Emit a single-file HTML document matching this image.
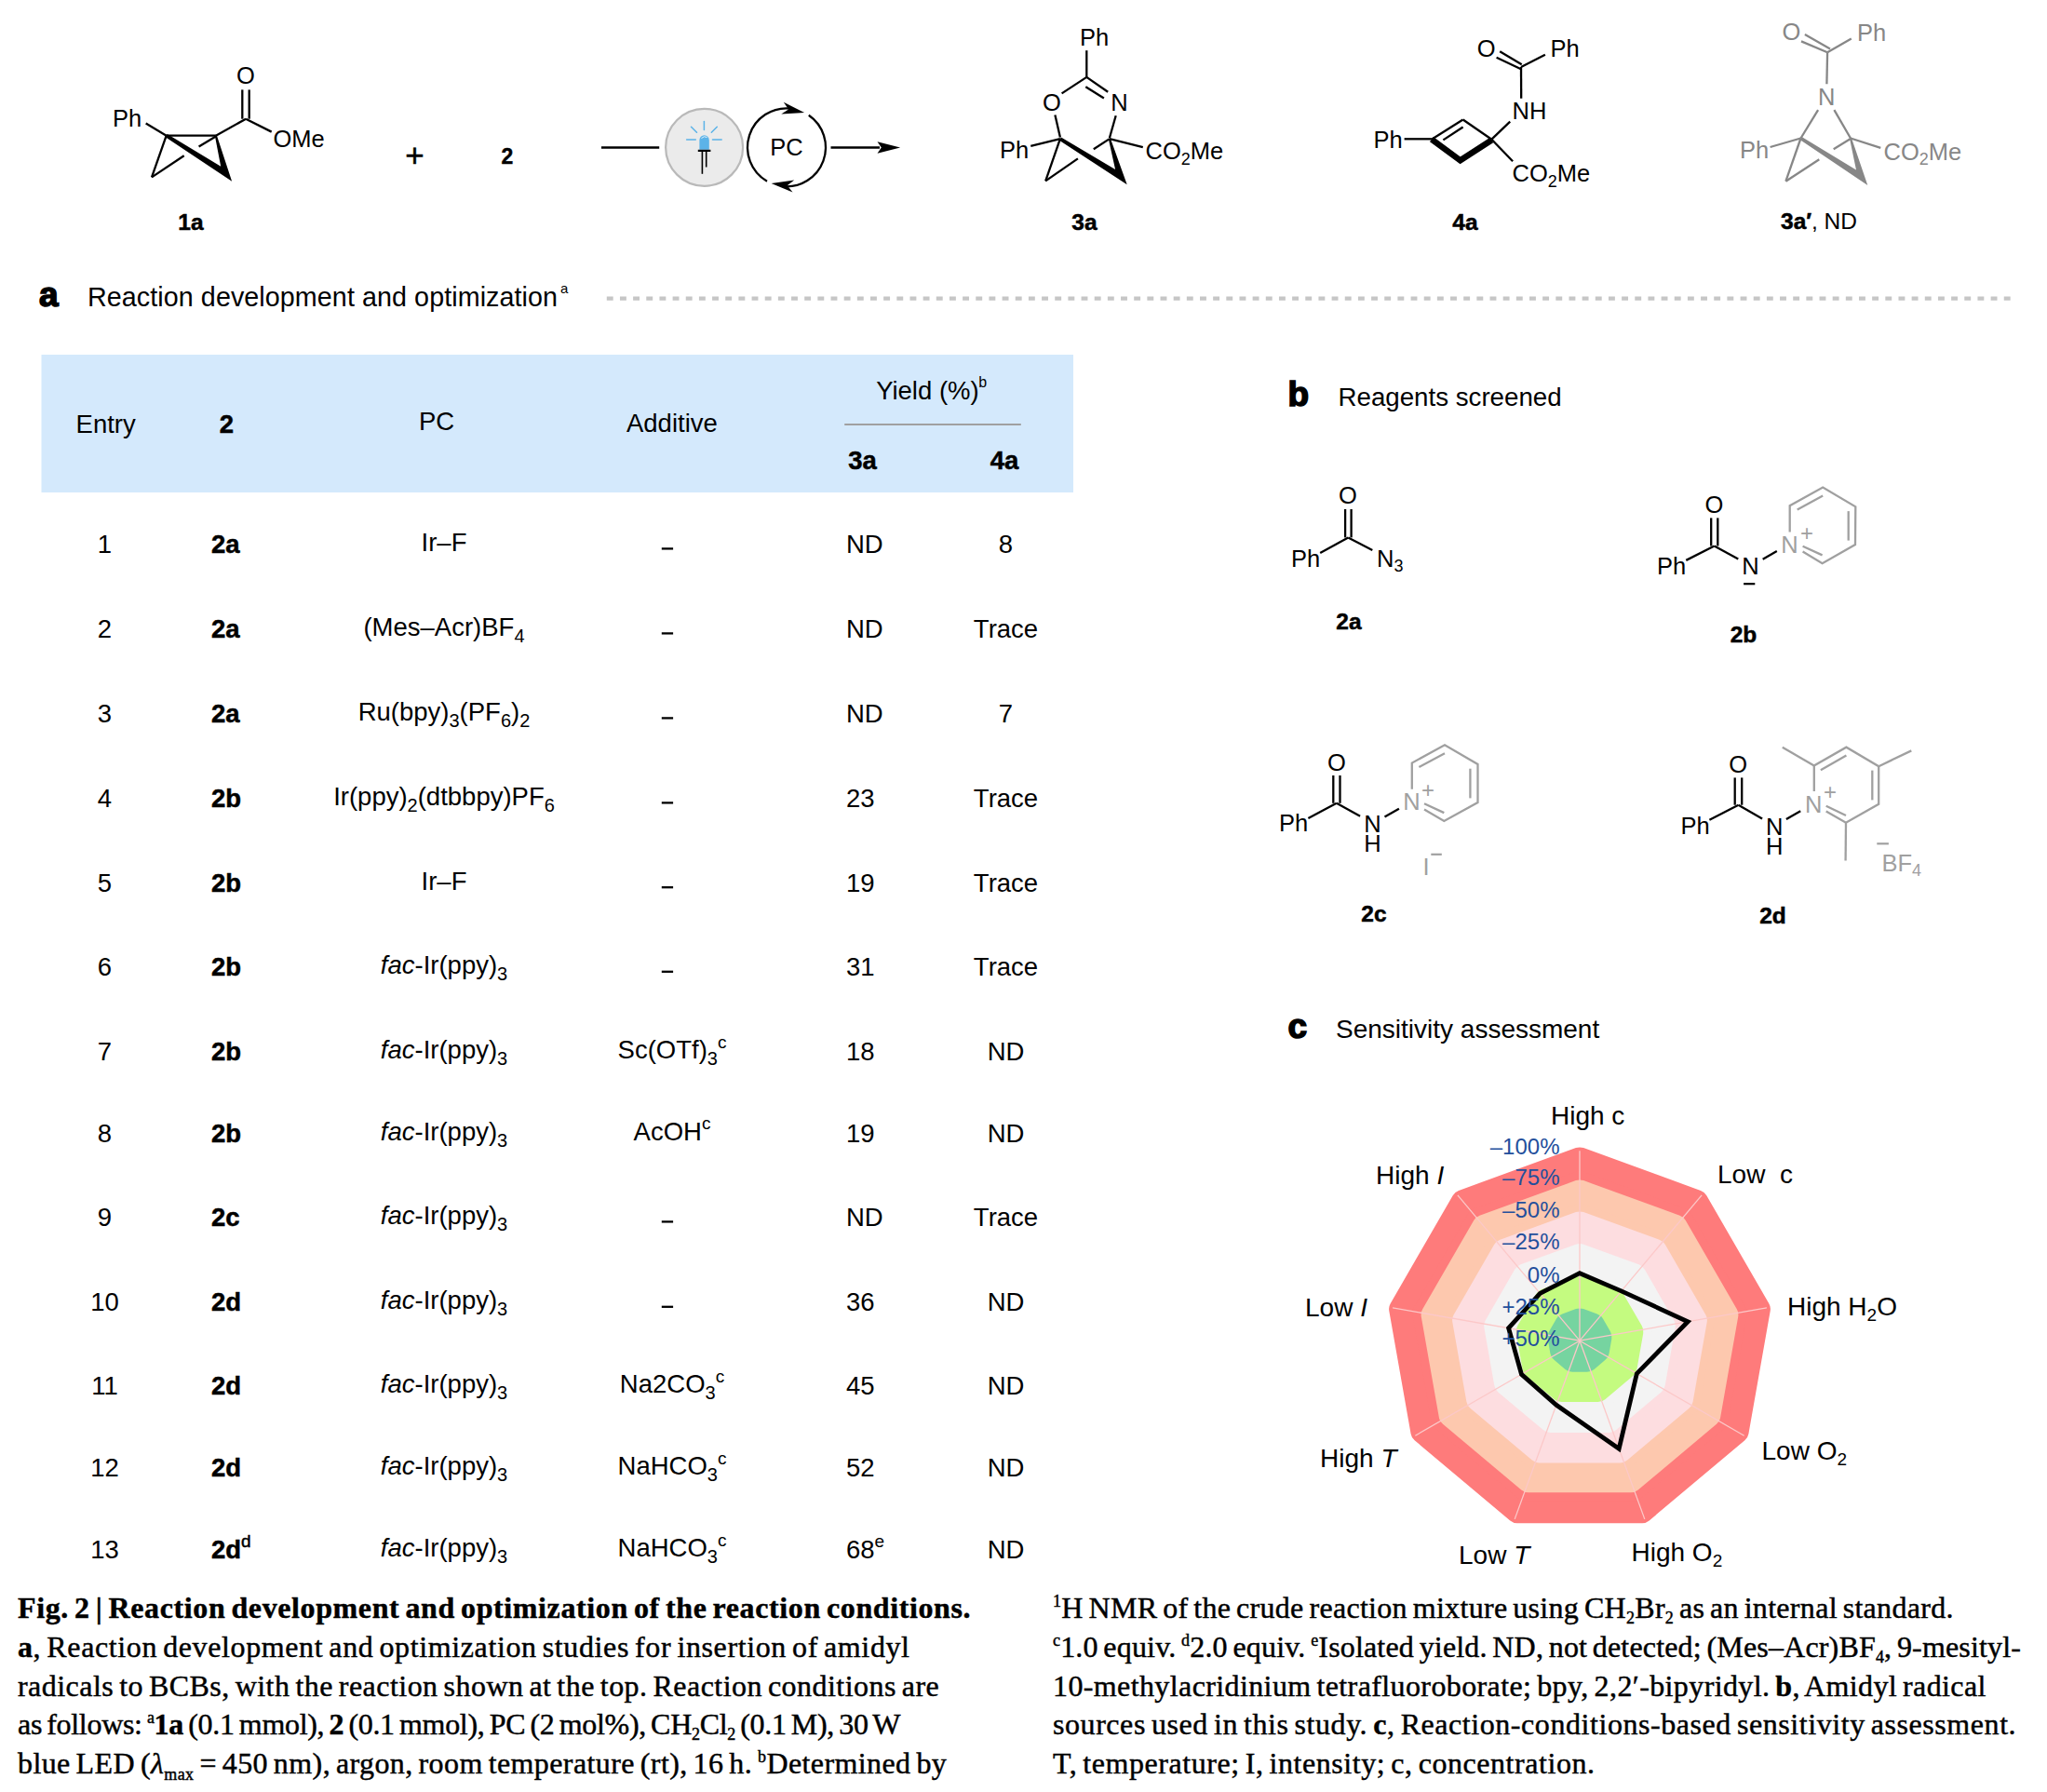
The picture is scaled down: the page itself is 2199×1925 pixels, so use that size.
<!DOCTYPE html>
<html><head><meta charset="utf-8"><style>
html,body{margin:0;padding:0;background:#fff;}
svg{display:block;}
</style></head><body>
<svg width="2199" height="1925" viewBox="0 0 2199 1925">
<rect width="2199" height="1925" fill="#fff"/>
<line x1="178.7" y1="145.7" x2="231.9" y2="145.7" stroke="#000" stroke-width="2.3" stroke-linecap="butt"/>
<line x1="156.7" y1="132.6" x2="178.7" y2="145.7" stroke="#000" stroke-width="2.3" stroke-linecap="butt"/>
<line x1="178.7" y1="145.7" x2="163.0" y2="190.4" stroke="#000" stroke-width="2.3" stroke-linecap="butt"/>
<line x1="163.0" y1="190.4" x2="197.7" y2="167.2" stroke="#000" stroke-width="2.3" stroke-linecap="butt"/>
<line x1="213.6" y1="157.5" x2="231.9" y2="146.5" stroke="#000" stroke-width="2.3" stroke-linecap="butt"/>
<polygon points="179.7,144.1 237.2,178.7 230.9,145.9 232.9,145.5 249.1,194.8 177.7,147.3" fill="#000" stroke="none" stroke-width="0" stroke-linejoin="miter"/>
<line x1="231.9" y1="145.7" x2="264.1" y2="127.7" stroke="#000" stroke-width="2.3" stroke-linecap="butt"/>
<line x1="260.3" y1="96.4" x2="260.3" y2="127.7" stroke="#000" stroke-width="2.3" stroke-linecap="butt"/>
<line x1="267.7" y1="96.4" x2="267.7" y2="127.7" stroke="#000" stroke-width="2.3" stroke-linecap="butt"/>
<line x1="264.1" y1="127.7" x2="291.7" y2="141.6" stroke="#000" stroke-width="2.3" stroke-linecap="butt"/>
<text x="264.0" y="90.3" font-family="Liberation Sans" font-size="25.5" font-weight="normal" font-style="normal" text-anchor="middle" fill="#000" >O</text>
<text x="293.5" y="157.5" font-family="Liberation Sans" font-size="25.5" font-weight="normal" font-style="normal" text-anchor="start" fill="#000" >OMe</text>
<text x="121.0" y="135.5" font-family="Liberation Sans" font-size="25.5" font-weight="normal" font-style="normal" text-anchor="start" fill="#000" >Ph</text>
<text x="205.0" y="246.6" font-family="Liberation Sans" font-size="24.5" font-weight="bold" font-style="normal" text-anchor="middle" fill="#000" stroke="#000" stroke-width="0.5">1a</text>
<text x="445.5" y="178.5" font-family="Liberation Sans" font-size="35" font-weight="normal" font-style="normal" text-anchor="middle" fill="#000" stroke="#000" stroke-width="0.5">+</text>
<text x="545.0" y="175.8" font-family="Liberation Sans" font-size="23" font-weight="bold" font-style="normal" text-anchor="middle" fill="#000" stroke="#000" stroke-width="0.4">2</text>
<line x1="646.0" y1="158.5" x2="708.2" y2="158.5" stroke="#000" stroke-width="2.4" stroke-linecap="butt"/>
<circle cx="756.6" cy="158.3" r="41.5" fill="#ebebeb" stroke="#b9b9b9" stroke-width="2.2"/>
<g stroke="#5cb3e8" stroke-width="1.5" stroke-linecap="round"><line x1="756.4" y1="130.5" x2="756.4" y2="139.5"/><line x1="742.5" y1="136.2" x2="748.5" y2="142.3"/><line x1="770.3" y1="136.2" x2="764.3" y2="142.3"/><line x1="737.6" y1="150" x2="747.3" y2="150"/><line x1="765.5" y1="150" x2="775.2" y2="150"/></g>
<path d="M751.4,160.8 L751.4,150.5 A5.2,5.2 0 0 1 761.8,150.5 L761.8,160.8 Z" fill="#5cb3e8"/>
<path d="M753.5,148.5 q3,-3 6,-1" stroke="#fff" stroke-width="0.8" fill="none"/>
<rect x="749.8" y="160.8" width="13.6" height="2.2" fill="#000"/>
<line x1="754.4" y1="163.0" x2="754.4" y2="186.8" stroke="#000" stroke-width="1.6" stroke-linecap="butt"/>
<line x1="758.7" y1="163.0" x2="758.7" y2="179.5" stroke="#000" stroke-width="1.6" stroke-linecap="butt"/>
<path d="M868.79,123.69 A42,42 0 0 1 840.61,200.07" fill="none" stroke="#000" stroke-width="2.3"/>
<path d="M824.00,194.67 A42,42 0 0 1 849.39,116.53" fill="none" stroke="#000" stroke-width="2.3"/>
<polygon points="828.6,197.0 853.2,193.6 845.7,199.2 851.5,206.5" fill="#000" stroke="none" stroke-width="0" stroke-linejoin="miter"/>
<polygon points="864.1,120.9 839.3,122.5 847.1,117.4 841.8,109.7" fill="#000" stroke="none" stroke-width="0" stroke-linejoin="miter"/>
<text x="845.0" y="167.2" font-family="Liberation Sans" font-size="25.5" font-weight="normal" font-style="normal" text-anchor="middle" fill="#000" >PC</text>
<line x1="892.5" y1="158.5" x2="945.0" y2="158.5" stroke="#000" stroke-width="2.3" stroke-linecap="butt"/>
<polygon points="967.1,158.5 942.5,152.2 946.8,158.5 942.5,164.8" fill="#000" stroke="none" stroke-width="0" stroke-linejoin="miter"/>
<line x1="1167.3" y1="54.2" x2="1167.3" y2="82.9" stroke="#000" stroke-width="2.3" stroke-linecap="butt"/>
<line x1="1167.3" y1="82.9" x2="1140.6" y2="100.4" stroke="#000" stroke-width="2.3" stroke-linecap="butt"/>
<line x1="1167.3" y1="82.9" x2="1190.2" y2="98.8" stroke="#000" stroke-width="2.3" stroke-linecap="butt"/>
<line x1="1166.3" y1="93.2" x2="1185.9" y2="105.5" stroke="#000" stroke-width="2.3" stroke-linecap="butt"/>
<text x="1130.0" y="118.8" font-family="Liberation Sans" font-size="25.5" font-weight="normal" font-style="normal" text-anchor="middle" fill="#000" >O</text>
<text x="1202.5" y="118.8" font-family="Liberation Sans" font-size="25.5" font-weight="normal" font-style="normal" text-anchor="middle" fill="#000" >N</text>
<line x1="1133.4" y1="123.4" x2="1138.9" y2="147.4" stroke="#000" stroke-width="2.3" stroke-linecap="butt"/>
<line x1="1198.7" y1="124.3" x2="1191.9" y2="148.2" stroke="#000" stroke-width="2.3" stroke-linecap="butt"/>
<line x1="1107.3" y1="156.8" x2="1138.9" y2="149.1" stroke="#000" stroke-width="2.3" stroke-linecap="butt"/>
<line x1="1138.9" y1="149.1" x2="1123.2" y2="194.4" stroke="#000" stroke-width="2.3" stroke-linecap="butt"/>
<line x1="1123.2" y1="194.4" x2="1157.9" y2="170.4" stroke="#000" stroke-width="2.3" stroke-linecap="butt"/>
<line x1="1174.8" y1="160.2" x2="1191.9" y2="149.1" stroke="#000" stroke-width="2.3" stroke-linecap="butt"/>
<polygon points="1139.9,147.5 1198.1,181.9 1190.9,149.4 1192.9,148.8 1210.7,198.3 1137.9,150.7" fill="#000" stroke="none" stroke-width="0" stroke-linejoin="miter"/>
<line x1="1191.9" y1="149.1" x2="1227.8" y2="158.1" stroke="#000" stroke-width="2.3" stroke-linecap="butt"/>
<text x="1074.0" y="170.4" font-family="Liberation Sans" font-size="25.5" font-weight="normal" font-style="normal" text-anchor="start" fill="#000" >Ph</text>
<text x="1160.0" y="49.1" font-family="Liberation Sans" font-size="25.5" font-weight="normal" font-style="normal" text-anchor="start" fill="#000" >Ph</text>
<text x="1230.5" y="171.3" font-family="Liberation Sans" font-size="25.5" font-weight="normal" font-style="normal" text-anchor="start" fill="#000" >CO<tspan font-size="18" dy="5.5">2</tspan><tspan dy="-5.5">Me</tspan></text>
<text x="1165.0" y="246.5" font-family="Liberation Sans" font-size="24.5" font-weight="bold" font-style="normal" text-anchor="middle" fill="#000" stroke="#000" stroke-width="0.5">3a</text>
<text x="1596.7" y="60.7" font-family="Liberation Sans" font-size="25.5" font-weight="normal" font-style="normal" text-anchor="middle" fill="#000" >O</text>
<text x="1665.5" y="61.0" font-family="Liberation Sans" font-size="25.5" font-weight="normal" font-style="normal" text-anchor="start" fill="#000" >Ph</text>
<line x1="1634.0" y1="74.2" x2="1607.6" y2="61.8" stroke="#000" stroke-width="2.3" stroke-linecap="butt"/>
<line x1="1634.7" y1="69.3" x2="1611.2" y2="55.2" stroke="#000" stroke-width="2.3" stroke-linecap="butt"/>
<line x1="1634.0" y1="72.0" x2="1659.9" y2="58.8" stroke="#000" stroke-width="2.3" stroke-linecap="butt"/>
<line x1="1634.0" y1="72.0" x2="1634.2" y2="105.7" stroke="#000" stroke-width="2.3" stroke-linecap="butt"/>
<text x="1643.0" y="127.7" font-family="Liberation Sans" font-size="25.5" font-weight="normal" font-style="normal" text-anchor="middle" fill="#000" >NH</text>
<line x1="1622.2" y1="130.7" x2="1602.4" y2="149.7" stroke="#000" stroke-width="2.3" stroke-linecap="butt"/>
<line x1="1602.4" y1="149.7" x2="1571.6" y2="128.5" stroke="#000" stroke-width="2.3" stroke-linecap="butt"/>
<line x1="1571.6" y1="128.5" x2="1537.9" y2="149.7" stroke="#000" stroke-width="2.3" stroke-linecap="butt"/>
<line x1="1550.4" y1="150.4" x2="1571.6" y2="136.5" stroke="#000" stroke-width="2.3" stroke-linecap="butt"/>
<line x1="1508.6" y1="149.3" x2="1537.9" y2="149.3" stroke="#000" stroke-width="2.3" stroke-linecap="butt"/>
<text x="1475.5" y="158.5" font-family="Liberation Sans" font-size="25.5" font-weight="normal" font-style="normal" text-anchor="start" fill="#000" >Ph</text>
<polyline points="1537.9,149.7 1568.7,172.3 1602.4,150.5" fill="none" stroke="#000" stroke-width="6.5" stroke-linejoin="miter"/>
<line x1="1602.4" y1="149.7" x2="1625.1" y2="173.2" stroke="#000" stroke-width="2.3" stroke-linecap="butt"/>
<text x="1624.5" y="195.0" font-family="Liberation Sans" font-size="25.5" font-weight="normal" font-style="normal" text-anchor="start" fill="#000" >CO<tspan font-size="18" dy="5.5">2</tspan><tspan dy="-5.5">Me</tspan></text>
<text x="1574.0" y="247.2" font-family="Liberation Sans" font-size="24.5" font-weight="bold" font-style="normal" text-anchor="middle" fill="#000" stroke="#000" stroke-width="0.5">4a</text>
<text x="1924.3" y="42.5" font-family="Liberation Sans" font-size="25.5" font-weight="normal" font-style="normal" text-anchor="middle" fill="#878787" >O</text>
<text x="1995.0" y="44.0" font-family="Liberation Sans" font-size="25.5" font-weight="normal" font-style="normal" text-anchor="start" fill="#878787" >Ph</text>
<line x1="1963.1" y1="56.2" x2="1935.0" y2="44.4" stroke="#878787" stroke-width="2.3" stroke-linecap="butt"/>
<line x1="1966.0" y1="52.5" x2="1938.9" y2="37.1" stroke="#878787" stroke-width="2.3" stroke-linecap="butt"/>
<line x1="1963.1" y1="56.2" x2="1988.8" y2="41.5" stroke="#878787" stroke-width="2.3" stroke-linecap="butt"/>
<line x1="1963.1" y1="56.2" x2="1962.4" y2="90.3" stroke="#878787" stroke-width="2.3" stroke-linecap="butt"/>
<text x="1962.3" y="112.6" font-family="Liberation Sans" font-size="25.5" font-weight="normal" font-style="normal" text-anchor="middle" fill="#878787" >N</text>
<line x1="1953.1" y1="118.2" x2="1934.5" y2="148.5" stroke="#878787" stroke-width="2.3" stroke-linecap="butt"/>
<line x1="1970.4" y1="118.2" x2="1988.0" y2="148.5" stroke="#878787" stroke-width="2.3" stroke-linecap="butt"/>
<line x1="1901.6" y1="158.0" x2="1934.5" y2="148.5" stroke="#878787" stroke-width="2.3" stroke-linecap="butt"/>
<text x="1869.0" y="169.8" font-family="Liberation Sans" font-size="25.5" font-weight="normal" font-style="normal" text-anchor="start" fill="#878787" >Ph</text>
<line x1="1988.0" y1="148.5" x2="2020.3" y2="158.8" stroke="#878787" stroke-width="2.3" stroke-linecap="butt"/>
<text x="2023.5" y="171.8" font-family="Liberation Sans" font-size="25.5" font-weight="normal" font-style="normal" text-anchor="start" fill="#878787" >CO<tspan font-size="18" dy="5.5">2</tspan><tspan dy="-5.5">Me</tspan></text>
<line x1="1934.5" y1="148.5" x2="1918.4" y2="194.7" stroke="#878787" stroke-width="2.3" stroke-linecap="butt"/>
<line x1="1918.4" y1="194.7" x2="1954.3" y2="171.2" stroke="#878787" stroke-width="2.3" stroke-linecap="butt"/>
<line x1="1969.7" y1="160.2" x2="1988.0" y2="149.0" stroke="#878787" stroke-width="2.3" stroke-linecap="butt"/>
<polygon points="1935.5,146.9 1994.0,182.6 1987.0,148.8 1989.0,148.2 2006.3,199.0 1933.5,150.1" fill="#878787" stroke="none" stroke-width="0" stroke-linejoin="miter"/>
<text x="1913.0" y="246.0" font-family="Liberation Sans" font-size="24.5" font-weight="bold" font-style="normal" text-anchor="start" fill="#000" stroke="#000" stroke-width="0.5">3a′</text>
<text x="1946.0" y="246.0" font-family="Liberation Sans" font-size="24.5" font-weight="normal" font-style="normal" text-anchor="start" fill="#000" >, ND</text>
<text x="42.0" y="329.4" font-family="Liberation Sans" font-size="37" font-weight="bold" font-style="normal" text-anchor="start" fill="#000" stroke="#000" stroke-width="1.6">a</text>
<text x="94.0" y="329.3" font-family="Liberation Sans" font-size="28.7" font-weight="normal" font-style="normal" text-anchor="start" fill="#000" textLength="505" lengthAdjust="spacing">Reaction development and optimization</text>
<text x="602.0" y="314.5" font-family="Liberation Sans" font-size="15" font-weight="normal" font-style="normal" text-anchor="start" fill="#000" >a</text>
<line x1="651.8" y1="320.7" x2="2162" y2="320.7" stroke="#c6c6c6" stroke-width="4.3" stroke-dasharray="6.9,7.26"/>
<rect x="44.5" y="381" width="1108.5" height="148" fill="#d4e9fc"/>
<text x="113.7" y="464.7" font-family="Liberation Sans" font-size="27.5" font-weight="normal" font-style="normal" text-anchor="middle" fill="#000" >Entry</text>
<text x="243.3" y="464.7" font-family="Liberation Sans" font-size="27.5" font-weight="bold" font-style="normal" text-anchor="middle" fill="#000" stroke="#000" stroke-width="0.5">2</text>
<text x="469.0" y="462.0" font-family="Liberation Sans" font-size="27.5" font-weight="normal" font-style="normal" text-anchor="middle" fill="#000" >PC</text>
<text x="721.9" y="463.8" font-family="Liberation Sans" font-size="27.5" font-weight="normal" font-style="normal" text-anchor="middle" fill="#000" >Additive</text>
<text x="996.4" y="428.6" font-family="Liberation Sans" font-size="27.5" font-weight="normal" font-style="normal" text-anchor="middle" fill="#000" >Yield (%)</text>
<text x="1051.3" y="416.0" font-family="Liberation Sans" font-size="16" font-weight="normal" font-style="normal" text-anchor="start" fill="#000" >b</text>
<line x1="907.2" y1="455.9" x2="1096.8" y2="455.9" stroke="#a0a0a0" stroke-width="2"/>
<text x="926.5" y="504.2" font-family="Liberation Sans" font-size="27.5" font-weight="bold" font-style="normal" text-anchor="middle" fill="#000" stroke="#000" stroke-width="0.5">3a</text>
<text x="1079.0" y="504.2" font-family="Liberation Sans" font-size="27.5" font-weight="bold" font-style="normal" text-anchor="middle" fill="#000" stroke="#000" stroke-width="0.5">4a</text>
<text x="112.5" y="594.0" font-family="Liberation Sans" font-size="27.5" font-weight="normal" font-style="normal" text-anchor="middle" fill="#000" >1</text>
<text x="227.0" y="594.0" font-family="Liberation Sans" font-size="27.5" font-weight="bold" font-style="normal" text-anchor="start" fill="#000" stroke="#000" stroke-width="0.5">2a</text>
<text x="477.0" y="592.0" font-family="Liberation Sans" font-size="27.5" font-weight="normal" font-style="normal" text-anchor="middle" fill="#000" >Ir–F</text>
<line x1="710.8" y1="589.4" x2="723.1" y2="589.4" stroke="#000" stroke-width="2.3" stroke-linecap="butt"/>
<text x="909.0" y="594.0" font-family="Liberation Sans" font-size="27.5" font-weight="normal" font-style="normal" text-anchor="start" fill="#000" >ND</text>
<text x="1080.5" y="594.0" font-family="Liberation Sans" font-size="27.5" font-weight="normal" font-style="normal" text-anchor="middle" fill="#000" >8</text>
<text x="112.5" y="685.0" font-family="Liberation Sans" font-size="27.5" font-weight="normal" font-style="normal" text-anchor="middle" fill="#000" >2</text>
<text x="227.0" y="685.0" font-family="Liberation Sans" font-size="27.5" font-weight="bold" font-style="normal" text-anchor="start" fill="#000" stroke="#000" stroke-width="0.5">2a</text>
<text x="477.0" y="683.0" font-family="Liberation Sans" font-size="27.5" font-weight="normal" font-style="normal" text-anchor="middle" fill="#000" >(Mes–Acr)BF<tspan font-size="20" dy="7">4</tspan></text>
<line x1="710.8" y1="680.4" x2="723.1" y2="680.4" stroke="#000" stroke-width="2.3" stroke-linecap="butt"/>
<text x="909.0" y="685.0" font-family="Liberation Sans" font-size="27.5" font-weight="normal" font-style="normal" text-anchor="start" fill="#000" >ND</text>
<text x="1080.5" y="685.0" font-family="Liberation Sans" font-size="27.5" font-weight="normal" font-style="normal" text-anchor="middle" fill="#000" >Trace</text>
<text x="112.5" y="776.0" font-family="Liberation Sans" font-size="27.5" font-weight="normal" font-style="normal" text-anchor="middle" fill="#000" >3</text>
<text x="227.0" y="776.0" font-family="Liberation Sans" font-size="27.5" font-weight="bold" font-style="normal" text-anchor="start" fill="#000" stroke="#000" stroke-width="0.5">2a</text>
<text x="477.0" y="774.0" font-family="Liberation Sans" font-size="27.5" font-weight="normal" font-style="normal" text-anchor="middle" fill="#000" >Ru(bpy)<tspan font-size="20" dy="7">3</tspan><tspan dy="-7">(PF</tspan><tspan font-size="20" dy="7">6</tspan><tspan dy="-7">)</tspan><tspan font-size="20" dy="7">2</tspan></text>
<line x1="710.8" y1="771.4" x2="723.1" y2="771.4" stroke="#000" stroke-width="2.3" stroke-linecap="butt"/>
<text x="909.0" y="776.0" font-family="Liberation Sans" font-size="27.5" font-weight="normal" font-style="normal" text-anchor="start" fill="#000" >ND</text>
<text x="1080.5" y="776.0" font-family="Liberation Sans" font-size="27.5" font-weight="normal" font-style="normal" text-anchor="middle" fill="#000" >7</text>
<text x="112.5" y="867.0" font-family="Liberation Sans" font-size="27.5" font-weight="normal" font-style="normal" text-anchor="middle" fill="#000" >4</text>
<text x="227.0" y="867.0" font-family="Liberation Sans" font-size="27.5" font-weight="bold" font-style="normal" text-anchor="start" fill="#000" stroke="#000" stroke-width="0.5">2b</text>
<text x="477.0" y="865.0" font-family="Liberation Sans" font-size="27.5" font-weight="normal" font-style="normal" text-anchor="middle" fill="#000" >Ir(ppy)<tspan font-size="20" dy="7">2</tspan><tspan dy="-7">(dtbbpy)PF</tspan><tspan font-size="20" dy="7">6</tspan></text>
<line x1="710.8" y1="862.4" x2="723.1" y2="862.4" stroke="#000" stroke-width="2.3" stroke-linecap="butt"/>
<text x="909.0" y="867.0" font-family="Liberation Sans" font-size="27.5" font-weight="normal" font-style="normal" text-anchor="start" fill="#000" >23</text>
<text x="1080.5" y="867.0" font-family="Liberation Sans" font-size="27.5" font-weight="normal" font-style="normal" text-anchor="middle" fill="#000" >Trace</text>
<text x="112.5" y="957.8" font-family="Liberation Sans" font-size="27.5" font-weight="normal" font-style="normal" text-anchor="middle" fill="#000" >5</text>
<text x="227.0" y="957.8" font-family="Liberation Sans" font-size="27.5" font-weight="bold" font-style="normal" text-anchor="start" fill="#000" stroke="#000" stroke-width="0.5">2b</text>
<text x="477.0" y="955.8" font-family="Liberation Sans" font-size="27.5" font-weight="normal" font-style="normal" text-anchor="middle" fill="#000" >Ir–F</text>
<line x1="710.8" y1="953.2" x2="723.1" y2="953.2" stroke="#000" stroke-width="2.3" stroke-linecap="butt"/>
<text x="909.0" y="957.8" font-family="Liberation Sans" font-size="27.5" font-weight="normal" font-style="normal" text-anchor="start" fill="#000" >19</text>
<text x="1080.5" y="957.8" font-family="Liberation Sans" font-size="27.5" font-weight="normal" font-style="normal" text-anchor="middle" fill="#000" >Trace</text>
<text x="112.5" y="1048.4" font-family="Liberation Sans" font-size="27.5" font-weight="normal" font-style="normal" text-anchor="middle" fill="#000" >6</text>
<text x="227.0" y="1048.4" font-family="Liberation Sans" font-size="27.5" font-weight="bold" font-style="normal" text-anchor="start" fill="#000" stroke="#000" stroke-width="0.5">2b</text>
<text x="477.0" y="1046.4" font-family="Liberation Sans" font-size="27.5" font-weight="normal" font-style="normal" text-anchor="middle" fill="#000" ><tspan font-style="italic">fac</tspan>-Ir(ppy)<tspan font-size="20" dy="7">3</tspan></text>
<line x1="710.8" y1="1043.8" x2="723.1" y2="1043.8" stroke="#000" stroke-width="2.3" stroke-linecap="butt"/>
<text x="909.0" y="1048.4" font-family="Liberation Sans" font-size="27.5" font-weight="normal" font-style="normal" text-anchor="start" fill="#000" >31</text>
<text x="1080.5" y="1048.4" font-family="Liberation Sans" font-size="27.5" font-weight="normal" font-style="normal" text-anchor="middle" fill="#000" >Trace</text>
<text x="112.5" y="1139.2" font-family="Liberation Sans" font-size="27.5" font-weight="normal" font-style="normal" text-anchor="middle" fill="#000" >7</text>
<text x="227.0" y="1139.2" font-family="Liberation Sans" font-size="27.5" font-weight="bold" font-style="normal" text-anchor="start" fill="#000" stroke="#000" stroke-width="0.5">2b</text>
<text x="477.0" y="1137.2" font-family="Liberation Sans" font-size="27.5" font-weight="normal" font-style="normal" text-anchor="middle" fill="#000" ><tspan font-style="italic">fac</tspan>-Ir(ppy)<tspan font-size="20" dy="7">3</tspan></text>
<text x="722.0" y="1137.0" font-family="Liberation Sans" font-size="27.5" font-weight="normal" font-style="normal" text-anchor="middle" fill="#000" >Sc(OTf)<tspan font-size="20" dy="7">3</tspan><tspan font-size="19" dy="-18">c</tspan></text>
<text x="909.0" y="1139.2" font-family="Liberation Sans" font-size="27.5" font-weight="normal" font-style="normal" text-anchor="start" fill="#000" >18</text>
<text x="1080.5" y="1139.2" font-family="Liberation Sans" font-size="27.5" font-weight="normal" font-style="normal" text-anchor="middle" fill="#000" >ND</text>
<text x="112.5" y="1227.1" font-family="Liberation Sans" font-size="27.5" font-weight="normal" font-style="normal" text-anchor="middle" fill="#000" >8</text>
<text x="227.0" y="1227.1" font-family="Liberation Sans" font-size="27.5" font-weight="bold" font-style="normal" text-anchor="start" fill="#000" stroke="#000" stroke-width="0.5">2b</text>
<text x="477.0" y="1225.1" font-family="Liberation Sans" font-size="27.5" font-weight="normal" font-style="normal" text-anchor="middle" fill="#000" ><tspan font-style="italic">fac</tspan>-Ir(ppy)<tspan font-size="20" dy="7">3</tspan></text>
<text x="722.0" y="1224.9" font-family="Liberation Sans" font-size="27.5" font-weight="normal" font-style="normal" text-anchor="middle" fill="#000" >AcOH<tspan font-size="19" dy="-12">c</tspan></text>
<text x="909.0" y="1227.1" font-family="Liberation Sans" font-size="27.5" font-weight="normal" font-style="normal" text-anchor="start" fill="#000" >19</text>
<text x="1080.5" y="1227.1" font-family="Liberation Sans" font-size="27.5" font-weight="normal" font-style="normal" text-anchor="middle" fill="#000" >ND</text>
<text x="112.5" y="1317.0" font-family="Liberation Sans" font-size="27.5" font-weight="normal" font-style="normal" text-anchor="middle" fill="#000" >9</text>
<text x="227.0" y="1317.0" font-family="Liberation Sans" font-size="27.5" font-weight="bold" font-style="normal" text-anchor="start" fill="#000" stroke="#000" stroke-width="0.5">2c</text>
<text x="477.0" y="1315.0" font-family="Liberation Sans" font-size="27.5" font-weight="normal" font-style="normal" text-anchor="middle" fill="#000" ><tspan font-style="italic">fac</tspan>-Ir(ppy)<tspan font-size="20" dy="7">3</tspan></text>
<line x1="710.8" y1="1312.4" x2="723.1" y2="1312.4" stroke="#000" stroke-width="2.3" stroke-linecap="butt"/>
<text x="909.0" y="1317.0" font-family="Liberation Sans" font-size="27.5" font-weight="normal" font-style="normal" text-anchor="start" fill="#000" >ND</text>
<text x="1080.5" y="1317.0" font-family="Liberation Sans" font-size="27.5" font-weight="normal" font-style="normal" text-anchor="middle" fill="#000" >Trace</text>
<text x="112.5" y="1408.4" font-family="Liberation Sans" font-size="27.5" font-weight="normal" font-style="normal" text-anchor="middle" fill="#000" >10</text>
<text x="227.0" y="1408.4" font-family="Liberation Sans" font-size="27.5" font-weight="bold" font-style="normal" text-anchor="start" fill="#000" stroke="#000" stroke-width="0.5">2d</text>
<text x="477.0" y="1406.4" font-family="Liberation Sans" font-size="27.5" font-weight="normal" font-style="normal" text-anchor="middle" fill="#000" ><tspan font-style="italic">fac</tspan>-Ir(ppy)<tspan font-size="20" dy="7">3</tspan></text>
<line x1="710.8" y1="1403.8" x2="723.1" y2="1403.8" stroke="#000" stroke-width="2.3" stroke-linecap="butt"/>
<text x="909.0" y="1408.4" font-family="Liberation Sans" font-size="27.5" font-weight="normal" font-style="normal" text-anchor="start" fill="#000" >36</text>
<text x="1080.5" y="1408.4" font-family="Liberation Sans" font-size="27.5" font-weight="normal" font-style="normal" text-anchor="middle" fill="#000" >ND</text>
<text x="112.5" y="1497.7" font-family="Liberation Sans" font-size="27.5" font-weight="normal" font-style="normal" text-anchor="middle" fill="#000" >11</text>
<text x="227.0" y="1497.7" font-family="Liberation Sans" font-size="27.5" font-weight="bold" font-style="normal" text-anchor="start" fill="#000" stroke="#000" stroke-width="0.5">2d</text>
<text x="477.0" y="1495.7" font-family="Liberation Sans" font-size="27.5" font-weight="normal" font-style="normal" text-anchor="middle" fill="#000" ><tspan font-style="italic">fac</tspan>-Ir(ppy)<tspan font-size="20" dy="7">3</tspan></text>
<text x="722.0" y="1495.5" font-family="Liberation Sans" font-size="27.5" font-weight="normal" font-style="normal" text-anchor="middle" fill="#000" >Na2CO<tspan font-size="20" dy="7">3</tspan><tspan font-size="19" dy="-18">c</tspan></text>
<text x="909.0" y="1497.7" font-family="Liberation Sans" font-size="27.5" font-weight="normal" font-style="normal" text-anchor="start" fill="#000" >45</text>
<text x="1080.5" y="1497.7" font-family="Liberation Sans" font-size="27.5" font-weight="normal" font-style="normal" text-anchor="middle" fill="#000" >ND</text>
<text x="112.5" y="1586.3" font-family="Liberation Sans" font-size="27.5" font-weight="normal" font-style="normal" text-anchor="middle" fill="#000" >12</text>
<text x="227.0" y="1586.3" font-family="Liberation Sans" font-size="27.5" font-weight="bold" font-style="normal" text-anchor="start" fill="#000" stroke="#000" stroke-width="0.5">2d</text>
<text x="477.0" y="1584.3" font-family="Liberation Sans" font-size="27.5" font-weight="normal" font-style="normal" text-anchor="middle" fill="#000" ><tspan font-style="italic">fac</tspan>-Ir(ppy)<tspan font-size="20" dy="7">3</tspan></text>
<text x="722.0" y="1584.1" font-family="Liberation Sans" font-size="27.5" font-weight="normal" font-style="normal" text-anchor="middle" fill="#000" >NaHCO<tspan font-size="20" dy="7">3</tspan><tspan font-size="19" dy="-18">c</tspan></text>
<text x="909.0" y="1586.3" font-family="Liberation Sans" font-size="27.5" font-weight="normal" font-style="normal" text-anchor="start" fill="#000" >52</text>
<text x="1080.5" y="1586.3" font-family="Liberation Sans" font-size="27.5" font-weight="normal" font-style="normal" text-anchor="middle" fill="#000" >ND</text>
<text x="112.5" y="1674.2" font-family="Liberation Sans" font-size="27.5" font-weight="normal" font-style="normal" text-anchor="middle" fill="#000" >13</text>
<text x="227.0" y="1674.2" font-family="Liberation Sans" font-size="27.5" font-weight="bold" font-style="normal" text-anchor="start" fill="#000" stroke="#000" stroke-width="0.5">2d<tspan font-size="19" font-weight="normal" dy="-12">d</tspan></text>
<text x="477.0" y="1672.2" font-family="Liberation Sans" font-size="27.5" font-weight="normal" font-style="normal" text-anchor="middle" fill="#000" ><tspan font-style="italic">fac</tspan>-Ir(ppy)<tspan font-size="20" dy="7">3</tspan></text>
<text x="722.0" y="1672.0" font-family="Liberation Sans" font-size="27.5" font-weight="normal" font-style="normal" text-anchor="middle" fill="#000" >NaHCO<tspan font-size="20" dy="7">3</tspan><tspan font-size="19" dy="-18">c</tspan></text>
<text x="909.0" y="1674.2" font-family="Liberation Sans" font-size="27.5" font-weight="normal" font-style="normal" text-anchor="start" fill="#000" >68<tspan font-size="19" dy="-12">e</tspan></text>
<text x="1080.5" y="1674.2" font-family="Liberation Sans" font-size="27.5" font-weight="normal" font-style="normal" text-anchor="middle" fill="#000" >ND</text>
<text x="1383.5" y="435.6" font-family="Liberation Sans" font-size="37" font-weight="bold" font-style="normal" text-anchor="start" fill="#000" stroke="#000" stroke-width="1.6">b</text>
<text x="1437.5" y="435.5" font-family="Liberation Sans" font-size="27.7" font-weight="normal" font-style="normal" text-anchor="start" fill="#000" >Reagents screened</text>
<text x="1448.0" y="541.2" font-family="Liberation Sans" font-size="25.5" font-weight="normal" font-style="normal" text-anchor="middle" fill="#000" >O</text>
<line x1="1445.1" y1="547.0" x2="1445.1" y2="577.4" stroke="#000" stroke-width="2.3" stroke-linecap="butt"/>
<line x1="1451.6" y1="547.0" x2="1451.6" y2="577.4" stroke="#000" stroke-width="2.3" stroke-linecap="butt"/>
<line x1="1448.3" y1="577.4" x2="1418.2" y2="594.0" stroke="#000" stroke-width="2.3" stroke-linecap="butt"/>
<line x1="1448.3" y1="577.4" x2="1474.3" y2="591.0" stroke="#000" stroke-width="2.3" stroke-linecap="butt"/>
<text x="1387.0" y="609.0" font-family="Liberation Sans" font-size="25.5" font-weight="normal" font-style="normal" text-anchor="start" fill="#000" >Ph</text>
<text x="1479.0" y="609.0" font-family="Liberation Sans" font-size="25.5" font-weight="normal" font-style="normal" text-anchor="start" fill="#000" >N<tspan font-size="18" dy="5">3</tspan></text>
<text x="1449.0" y="676.0" font-family="Liberation Sans" font-size="24.5" font-weight="bold" font-style="normal" text-anchor="middle" fill="#000" stroke="#000" stroke-width="0.5">2a</text>
<text x="1841.5" y="551.0" font-family="Liberation Sans" font-size="25.5" font-weight="normal" font-style="normal" text-anchor="middle" fill="#000" >O</text>
<line x1="1838.2" y1="556.4" x2="1838.2" y2="586.5" stroke="#000" stroke-width="2.3" stroke-linecap="butt"/>
<line x1="1845.3" y1="556.4" x2="1845.3" y2="586.5" stroke="#000" stroke-width="2.3" stroke-linecap="butt"/>
<line x1="1841.6" y1="586.5" x2="1811.3" y2="601.9" stroke="#000" stroke-width="2.3" stroke-linecap="butt"/>
<line x1="1841.6" y1="586.5" x2="1867.3" y2="600.4" stroke="#000" stroke-width="2.3" stroke-linecap="butt"/>
<text x="1780.0" y="617.0" font-family="Liberation Sans" font-size="25.5" font-weight="normal" font-style="normal" text-anchor="start" fill="#000" >Ph</text>
<text x="1880.5" y="617.3" font-family="Liberation Sans" font-size="25.5" font-weight="normal" font-style="normal" text-anchor="middle" fill="#000" >N</text>
<line x1="1873.1" y1="627.2" x2="1885.3" y2="627.2" stroke="#000" stroke-width="2.2" stroke-linecap="butt"/>
<line x1="1893.7" y1="600.8" x2="1908.8" y2="592.0" stroke="#000" stroke-width="2.3" stroke-linecap="butt"/>
<text x="1922.5" y="593.5" font-family="Liberation Sans" font-size="25.5" font-weight="normal" font-style="normal" text-anchor="middle" fill="#a0a0a0" >N</text>
<text x="1941.0" y="580.5" font-family="Liberation Sans" font-size="24" font-weight="normal" font-style="normal" text-anchor="middle" fill="#a0a0a0" >+</text>
<polyline points="1922.7,571.5 1922.7,543.2 1958.2,523.5 1993.3,544.3 1993,585 1957.6,605.2 1936.6,592.6" fill="none" stroke="#a0a0a0" stroke-width="2.3"/>
<line x1="1930.7" y1="547.6" x2="1958.2" y2="532.5" stroke="#a0a0a0" stroke-width="2.3" stroke-linecap="butt"/>
<line x1="1985.7" y1="549.1" x2="1985.7" y2="580.6" stroke="#a0a0a0" stroke-width="2.3" stroke-linecap="butt"/>
<line x1="1936.6" y1="586.8" x2="1957.6" y2="596.4" stroke="#a0a0a0" stroke-width="2.3" stroke-linecap="butt"/>
<text x="1873.0" y="689.8" font-family="Liberation Sans" font-size="24.5" font-weight="bold" font-style="normal" text-anchor="middle" fill="#000" stroke="#000" stroke-width="0.5">2b</text>
<text x="1436.0" y="827.6" font-family="Liberation Sans" font-size="25.5" font-weight="normal" font-style="normal" text-anchor="middle" fill="#000" >O</text>
<line x1="1432.3" y1="833.0" x2="1432.3" y2="862.8" stroke="#000" stroke-width="2.3" stroke-linecap="butt"/>
<line x1="1439.5" y1="833.0" x2="1439.5" y2="862.8" stroke="#000" stroke-width="2.3" stroke-linecap="butt"/>
<line x1="1435.8" y1="862.8" x2="1405.4" y2="878.9" stroke="#000" stroke-width="2.3" stroke-linecap="butt"/>
<line x1="1435.8" y1="862.8" x2="1461.1" y2="876.7" stroke="#000" stroke-width="2.3" stroke-linecap="butt"/>
<text x="1374.0" y="892.9" font-family="Liberation Sans" font-size="25.5" font-weight="normal" font-style="normal" text-anchor="start" fill="#000" >Ph</text>
<text x="1474.5" y="893.6" font-family="Liberation Sans" font-size="25.5" font-weight="normal" font-style="normal" text-anchor="middle" fill="#000" >N</text>
<text x="1474.5" y="914.5" font-family="Liberation Sans" font-size="25.5" font-weight="normal" font-style="normal" text-anchor="middle" fill="#000" >H</text>
<line x1="1487.5" y1="877.5" x2="1502.9" y2="868.7" stroke="#000" stroke-width="2.3" stroke-linecap="butt"/>
<text x="1516.5" y="870.1" font-family="Liberation Sans" font-size="25.5" font-weight="normal" font-style="normal" text-anchor="middle" fill="#a0a0a0" >N</text>
<text x="1534.0" y="856.5" font-family="Liberation Sans" font-size="24" font-weight="normal" font-style="normal" text-anchor="middle" fill="#a0a0a0" >+</text>
<polyline points="1516.8,847.7 1516.8,819.6 1552,800.2 1587.5,821 1587.5,862.1 1551.3,881.9 1530,869.4" fill="none" stroke="#a0a0a0" stroke-width="2.3"/>
<line x1="1524.4" y1="824.0" x2="1552.0" y2="809.3" stroke="#a0a0a0" stroke-width="2.3" stroke-linecap="butt"/>
<line x1="1579.4" y1="825.7" x2="1579.4" y2="857.4" stroke="#a0a0a0" stroke-width="2.3" stroke-linecap="butt"/>
<line x1="1530.0" y1="863.2" x2="1551.3" y2="873.1" stroke="#a0a0a0" stroke-width="2.3" stroke-linecap="butt"/>
<text x="1532.0" y="939.8" font-family="Liberation Sans" font-size="25.5" font-weight="normal" font-style="normal" text-anchor="middle" fill="#a0a0a0" >I</text>
<line x1="1537.3" y1="917.8" x2="1548.8" y2="917.8" stroke="#a0a0a0" stroke-width="2.2" stroke-linecap="butt"/>
<text x="1476.0" y="990.3" font-family="Liberation Sans" font-size="24.5" font-weight="bold" font-style="normal" text-anchor="middle" fill="#000" stroke="#000" stroke-width="0.5">2c</text>
<text x="1867.2" y="829.8" font-family="Liberation Sans" font-size="25.5" font-weight="normal" font-style="normal" text-anchor="middle" fill="#000" >O</text>
<line x1="1863.7" y1="835.4" x2="1863.7" y2="864.7" stroke="#000" stroke-width="2.3" stroke-linecap="butt"/>
<line x1="1871.2" y1="835.4" x2="1871.2" y2="864.7" stroke="#000" stroke-width="2.3" stroke-linecap="butt"/>
<line x1="1867.5" y1="864.7" x2="1836.4" y2="880.8" stroke="#000" stroke-width="2.3" stroke-linecap="butt"/>
<line x1="1867.5" y1="864.7" x2="1893.1" y2="879.4" stroke="#000" stroke-width="2.3" stroke-linecap="butt"/>
<text x="1805.5" y="895.8" font-family="Liberation Sans" font-size="25.5" font-weight="normal" font-style="normal" text-anchor="start" fill="#000" >Ph</text>
<text x="1906.2" y="896.5" font-family="Liberation Sans" font-size="25.5" font-weight="normal" font-style="normal" text-anchor="middle" fill="#000" >N</text>
<text x="1906.2" y="917.8" font-family="Liberation Sans" font-size="25.5" font-weight="normal" font-style="normal" text-anchor="middle" fill="#000" >H</text>
<line x1="1918.9" y1="880.0" x2="1934.2" y2="871.2" stroke="#000" stroke-width="2.3" stroke-linecap="butt"/>
<text x="1948.2" y="872.6" font-family="Liberation Sans" font-size="25.5" font-weight="normal" font-style="normal" text-anchor="middle" fill="#a0a0a0" >N</text>
<text x="1966.0" y="859.0" font-family="Liberation Sans" font-size="24" font-weight="normal" font-style="normal" text-anchor="middle" fill="#a0a0a0" >+</text>
<polyline points="1948.8,850 1948.8,822.5 1983.4,802.7 2018.2,823.2 2018.2,863.8 1983,883.8 1961.7,871.6" fill="none" stroke="#a0a0a0" stroke-width="2.3"/>
<line x1="1955.9" y1="827.2" x2="1983.4" y2="811.5" stroke="#a0a0a0" stroke-width="2.3" stroke-linecap="butt"/>
<line x1="2011.3" y1="827.6" x2="2011.3" y2="859.4" stroke="#a0a0a0" stroke-width="2.3" stroke-linecap="butt"/>
<line x1="1961.7" y1="865.7" x2="1983.0" y2="876.0" stroke="#a0a0a0" stroke-width="2.3" stroke-linecap="butt"/>
<line x1="1914.8" y1="802.7" x2="1948.8" y2="822.5" stroke="#a0a0a0" stroke-width="2.3" stroke-linecap="butt"/>
<line x1="2018.2" y1="823.2" x2="2053.3" y2="806.4" stroke="#a0a0a0" stroke-width="2.3" stroke-linecap="butt"/>
<line x1="1983.0" y1="883.8" x2="1982.6" y2="924.4" stroke="#a0a0a0" stroke-width="2.3" stroke-linecap="butt"/>
<line x1="2016.3" y1="906.3" x2="2028.9" y2="906.3" stroke="#a0a0a0" stroke-width="2.2" stroke-linecap="butt"/>
<text x="2021.5" y="935.6" font-family="Liberation Sans" font-size="25.5" font-weight="normal" font-style="normal" text-anchor="start" fill="#a0a0a0" >BF<tspan font-size="18" dy="5.5">4</tspan></text>
<text x="1904.5" y="992.2" font-family="Liberation Sans" font-size="24.5" font-weight="bold" font-style="normal" text-anchor="middle" fill="#000" stroke="#000" stroke-width="0.5">2d</text>
<text x="1383.5" y="1114.9" font-family="Liberation Sans" font-size="37" font-weight="bold" font-style="normal" text-anchor="start" fill="#000" stroke="#000" stroke-width="1.6">c</text>
<text x="1435.0" y="1115.3" font-family="Liberation Sans" font-size="28" font-weight="normal" font-style="normal" text-anchor="start" fill="#000" >Sensitivity assessment</text>
<polygon points="1697.0,1244.4 1822.9,1290.2 1889.9,1406.2 1866.6,1538.1 1764.0,1624.2 1630.0,1624.2 1527.4,1538.1 1504.1,1406.2 1571.1,1290.2" fill="#fe7b7b" stroke="#fe7b7b" stroke-width="24" stroke-linejoin="round"/>
<polygon points="1697.0,1279.4 1800.4,1317.0 1855.4,1412.3 1836.3,1520.6 1752.0,1591.3 1642.0,1591.3 1557.7,1520.6 1538.6,1412.3 1593.6,1317.0" fill="#fdc8ae" stroke="#fdc8ae" stroke-width="24" stroke-linejoin="round"/>
<polygon points="1697.0,1313.4 1778.5,1343.0 1821.9,1418.2 1806.8,1503.6 1740.4,1559.4 1653.6,1559.4 1587.2,1503.6 1572.1,1418.2 1615.5,1343.0" fill="#fddde0" stroke="#fddde0" stroke-width="24" stroke-linejoin="round"/>
<polygon points="1697.0,1348.0 1756.3,1369.5 1787.8,1424.2 1776.9,1486.3 1728.5,1526.9 1665.5,1526.9 1617.1,1486.3 1606.2,1424.2 1637.7,1369.5" fill="#f3f3f3" stroke="#f3f3f3" stroke-width="24" stroke-linejoin="round"/>
<polygon points="1697.0,1383.0 1733.8,1396.4 1753.4,1430.3 1746.6,1468.8 1716.6,1494.0 1677.4,1494.0 1647.4,1468.8 1640.6,1430.3 1660.2,1396.4" fill="#c4fb80" stroke="#c4fb80" stroke-width="24" stroke-linejoin="round"/>
<polygon points="1697.0,1417.4 1711.7,1422.7 1719.5,1436.2 1716.8,1451.6 1704.8,1461.7 1689.2,1461.7 1677.2,1451.6 1674.5,1436.2 1682.3,1422.7" fill="#76d4a0" stroke="#76d4a0" stroke-width="24" stroke-linejoin="round"/>
<line x1="1697.0" y1="1440.2" x2="1697.0" y2="1236.2" stroke="#fcc8c8" stroke-width="1.3" stroke-linecap="butt"/>
<line x1="1697.0" y1="1440.2" x2="1828.1" y2="1283.9" stroke="#fcc8c8" stroke-width="1.3" stroke-linecap="butt"/>
<line x1="1697.0" y1="1440.2" x2="1897.9" y2="1404.8" stroke="#fcc8c8" stroke-width="1.3" stroke-linecap="butt"/>
<line x1="1697.0" y1="1440.2" x2="1873.7" y2="1542.2" stroke="#fcc8c8" stroke-width="1.3" stroke-linecap="butt"/>
<line x1="1697.0" y1="1440.2" x2="1766.8" y2="1631.9" stroke="#fcc8c8" stroke-width="1.3" stroke-linecap="butt"/>
<line x1="1697.0" y1="1440.2" x2="1627.2" y2="1631.9" stroke="#fcc8c8" stroke-width="1.3" stroke-linecap="butt"/>
<line x1="1697.0" y1="1440.2" x2="1520.3" y2="1542.2" stroke="#fcc8c8" stroke-width="1.3" stroke-linecap="butt"/>
<line x1="1697.0" y1="1440.2" x2="1496.1" y2="1404.8" stroke="#fcc8c8" stroke-width="1.3" stroke-linecap="butt"/>
<line x1="1697.0" y1="1440.2" x2="1565.9" y2="1283.9" stroke="#fcc8c8" stroke-width="1.3" stroke-linecap="butt"/>
<polygon points="1697.0,1367.7 1741.7,1386.9 1813.2,1419.7 1758.3,1475.6 1739.2,1556.3 1671.9,1509.3 1634.5,1476.3 1620.6,1426.7 1654.4,1389.4" fill="none" stroke="#000" stroke-width="4.8" stroke-linejoin="miter"/>
<text x="1675.5" y="1239.8" font-family="Liberation Sans" font-size="24" font-weight="normal" font-style="normal" text-anchor="end" fill="#234f9c" >–100%</text>
<text x="1675.5" y="1273.0" font-family="Liberation Sans" font-size="24" font-weight="normal" font-style="normal" text-anchor="end" fill="#234f9c" >–75%</text>
<text x="1675.5" y="1308.0" font-family="Liberation Sans" font-size="24" font-weight="normal" font-style="normal" text-anchor="end" fill="#234f9c" >–50%</text>
<text x="1675.5" y="1342.4" font-family="Liberation Sans" font-size="24" font-weight="normal" font-style="normal" text-anchor="end" fill="#234f9c" >–25%</text>
<text x="1675.5" y="1377.7" font-family="Liberation Sans" font-size="24" font-weight="normal" font-style="normal" text-anchor="end" fill="#234f9c" >0%</text>
<text x="1675.5" y="1411.9" font-family="Liberation Sans" font-size="24" font-weight="normal" font-style="normal" text-anchor="end" fill="#234f9c" >+25%</text>
<text x="1675.5" y="1446.0" font-family="Liberation Sans" font-size="24" font-weight="normal" font-style="normal" text-anchor="end" fill="#234f9c" >+50%</text>
<text x="1666.0" y="1207.8" font-family="Liberation Sans" font-size="28" font-weight="normal" font-style="normal" text-anchor="start" fill="#000" >High c</text>
<text x="1845.0" y="1270.8" font-family="Liberation Sans" font-size="28" font-weight="normal" font-style="normal" text-anchor="start" fill="#000" >Low&#160;&#160;c</text>
<text x="1920.0" y="1412.6" font-family="Liberation Sans" font-size="28" font-weight="normal" font-style="normal" text-anchor="start" fill="#000" >High H<tspan font-size="19" dy="6">2</tspan><tspan dy="-6">O</tspan></text>
<text x="1892.5" y="1568.3" font-family="Liberation Sans" font-size="28" font-weight="normal" font-style="normal" text-anchor="start" fill="#000" >Low O<tspan font-size="19" dy="6">2</tspan></text>
<text x="1752.5" y="1676.6" font-family="Liberation Sans" font-size="28" font-weight="normal" font-style="normal" text-anchor="start" fill="#000" >High O<tspan font-size="19" dy="6">2</tspan></text>
<text x="1567.0" y="1679.8" font-family="Liberation Sans" font-size="28" font-weight="normal" font-style="normal" text-anchor="start" fill="#000" >Low <tspan font-style="italic">T</tspan></text>
<text x="1418.0" y="1576.4" font-family="Liberation Sans" font-size="28" font-weight="normal" font-style="normal" text-anchor="start" fill="#000" >High <tspan font-style="italic">T</tspan></text>
<text x="1402.0" y="1413.5" font-family="Liberation Sans" font-size="28" font-weight="normal" font-style="normal" text-anchor="start" fill="#000" >Low <tspan font-style="italic">I</tspan></text>
<text x="1478.0" y="1271.7" font-family="Liberation Sans" font-size="28" font-weight="normal" font-style="normal" text-anchor="start" fill="#000" >High <tspan font-style="italic">I</tspan></text>
<text x="19.0" y="1738.2" font-family="Liberation Serif" font-size="32" font-weight="normal" font-style="normal" text-anchor="start" fill="#000" textLength="1023.6" lengthAdjust="spacing" word-spacing="-2.5" stroke="#000" stroke-width="0.45"><tspan font-weight="bold">Fig. 2 | Reaction development and optimization of the reaction conditions.</tspan></text>
<text x="19.0" y="1779.9" font-family="Liberation Serif" font-size="32" font-weight="normal" font-style="normal" text-anchor="start" fill="#000" textLength="958" lengthAdjust="spacing" word-spacing="-2.5" stroke="#000" stroke-width="0.45"><tspan font-weight="bold">a</tspan>, Reaction development and optimization studies for insertion of amidyl</text>
<text x="19.0" y="1821.5" font-family="Liberation Serif" font-size="32" font-weight="normal" font-style="normal" text-anchor="start" fill="#000" textLength="989.8" lengthAdjust="spacing" word-spacing="-2.5" stroke="#000" stroke-width="0.45">radicals to BCBs, with the reaction shown at the top. Reaction conditions are</text>
<text x="19.0" y="1863.1" font-family="Liberation Serif" font-size="32" font-weight="normal" font-style="normal" text-anchor="start" fill="#000" textLength="948.4" lengthAdjust="spacing" word-spacing="-2.5" stroke="#000" stroke-width="0.45">as follows: <tspan font-size="18" dy="-12">a</tspan><tspan font-weight="bold" dy="12">1a</tspan> (0.1 mmol), <tspan font-weight="bold">2</tspan> (0.1 mmol), PC (2 mol%), CH<tspan font-size="18" dy="6">2</tspan><tspan dy="-6">Cl</tspan><tspan font-size="18" dy="6">2</tspan><tspan dy="-6"> (0.1 M), 30 W</tspan></text>
<text x="19.0" y="1904.8" font-family="Liberation Serif" font-size="32" font-weight="normal" font-style="normal" text-anchor="start" fill="#000" textLength="997.8" lengthAdjust="spacing" word-spacing="-2.5" stroke="#000" stroke-width="0.45">blue LED (<tspan font-style="italic">λ</tspan><tspan font-size="18" dy="7">max</tspan><tspan dy="-7"> = 450 nm), argon, room temperature (rt), 16 h. </tspan><tspan font-size="18" dy="-12">b</tspan><tspan dy="12">Determined by</tspan></text>
<text x="1131.0" y="1738.2" font-family="Liberation Serif" font-size="32" font-weight="normal" font-style="normal" text-anchor="start" fill="#000" textLength="967.5" lengthAdjust="spacing" word-spacing="-2.5" stroke="#000" stroke-width="0.45"><tspan font-size="18" dy="-12">1</tspan><tspan dy="12">H NMR of the crude reaction mixture using CH</tspan><tspan font-size="18" dy="6">2</tspan><tspan dy="-6">Br</tspan><tspan font-size="18" dy="6">2</tspan><tspan dy="-6"> as an internal standard.</tspan></text>
<text x="1131.0" y="1779.9" font-family="Liberation Serif" font-size="32" font-weight="normal" font-style="normal" text-anchor="start" fill="#000" textLength="1040" lengthAdjust="spacing" word-spacing="-2.5" stroke="#000" stroke-width="0.45"><tspan font-size="18" dy="-12">c</tspan><tspan dy="12">1.0 equiv. </tspan><tspan font-size="18" dy="-12">d</tspan><tspan dy="12">2.0 equiv. </tspan><tspan font-size="18" dy="-12">e</tspan><tspan dy="12">Isolated yield. ND, not detected; (Mes–Acr)BF</tspan><tspan font-size="18" dy="6">4</tspan><tspan dy="-6">, 9-mesityl-</tspan></text>
<text x="1131.0" y="1821.5" font-family="Liberation Serif" font-size="32" font-weight="normal" font-style="normal" text-anchor="start" fill="#000" textLength="1002.4" lengthAdjust="spacing" word-spacing="-2.5" stroke="#000" stroke-width="0.45">10-methylacridinium tetrafluoroborate; bpy, 2,2′-bipyridyl. <tspan font-weight="bold">b</tspan>, Amidyl radical</text>
<text x="1131.0" y="1863.1" font-family="Liberation Serif" font-size="32" font-weight="normal" font-style="normal" text-anchor="start" fill="#000" textLength="1034.6" lengthAdjust="spacing" word-spacing="-2.5" stroke="#000" stroke-width="0.45">sources used in this study. <tspan font-weight="bold">c</tspan>, Reaction-conditions-based sensitivity assessment.</text>
<text x="1131.0" y="1904.8" font-family="Liberation Serif" font-size="32" font-weight="normal" font-style="normal" text-anchor="start" fill="#000" textLength="582" lengthAdjust="spacing" word-spacing="-2.5" stroke="#000" stroke-width="0.45">T, temperature; I, intensity; c, concentration.</text>
</svg>
</body></html>
